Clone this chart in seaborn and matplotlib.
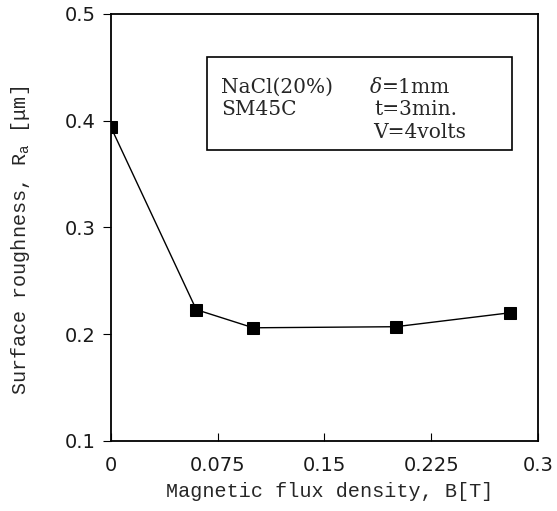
import numpy as np
import pandas as pd
import matplotlib
matplotlib.use("Agg")
import matplotlib.pyplot as plt
import seaborn as sns

# values
flux = [0.0, 0.06, 0.1, 0.2, 0.28]
roughness = [0.394, 0.223, 0.206, 0.207, 0.220]
x_ticks = [0, 0.075, 0.15, 0.225, 0.3]
x_tick_labels = ["0", "0.075", "0.15", "0.225", "0.3"]
y_ticks = [0.1, 0.2, 0.3, 0.4, 0.5]

df = pd.DataFrame({"B": flux, "Ra": roughness})

sns.set_style("ticks")
plt.rcParams["font.family"] = ["DejaVu Sans"]
plt.rcParams["mathtext.fontset"] = "custom"
plt.rcParams["mathtext.rm"] = "Liberation Mono"
plt.rcParams["mathtext.it"] = "DejaVu Serif:italic"

fig = plt.figure(figsize=(5.57, 5.11), dpi=100)
ax = fig.add_axes([0.199, 0.137, 0.767, 0.836])

sns.lineplot(data=df, x="B", y="Ra", ax=ax, color="black", linewidth=1.0,
             marker="s", markersize=9, markeredgecolor="black",
             markerfacecolor="black")

ax.set_xlim(0, 0.3)
ax.set_ylim(0.1, 0.5)
ax.set_xticks(x_ticks)
ax.set_xticklabels(x_tick_labels)
ax.set_yticks(y_ticks)
ax.set_yticklabels([f"{v:.1f}" for v in y_ticks])
ax.tick_params(axis="x", direction="in", length=6, labelsize=14, pad=11,
               colors="black", labelcolor="#1a1a1a")
ax.tick_params(axis="y", direction="out", length=6, labelsize=14, pad=5,
               colors="black", labelcolor="#1a1a1a")

for sp in ax.spines.values():
    sp.set_visible(True)
    sp.set_linewidth(1.3)
    sp.set_color("black")

ax.set_xlabel("Magnetic flux density, B[T]", fontsize=14.5,
              family="Liberation Mono")
ax.set_ylabel("Surface roughness, R$_\\mathrm{a}$ [μm]", fontsize=14.5,
              family="Liberation Mono")
ax.xaxis.set_label_coords(0.513, -0.095)
ax.yaxis.set_label_coords(-0.185, 0.47)

# condition box
box = plt.Rectangle((0.225, 0.681), 0.714, 0.218, transform=ax.transAxes,
                    fill=False, edgecolor="black", linewidth=1.2)
ax.add_patch(box)
tkw = dict(transform=ax.transAxes, fontsize=14.5, family="DejaVu Serif",
           va="center", ha="left")
ax.text(0.258, 0.829, "NaCl(20%)", **tkw)
ax.text(0.258, 0.775, "SM45C", **tkw)
ax.text(0.605, 0.829, r"$\delta$=1mm", **tkw)
ax.text(0.617, 0.775, "t=3min.", **tkw)
ax.text(0.613, 0.721, "V=4volts", **tkw)

fig.savefig("out.png", dpi=100)
